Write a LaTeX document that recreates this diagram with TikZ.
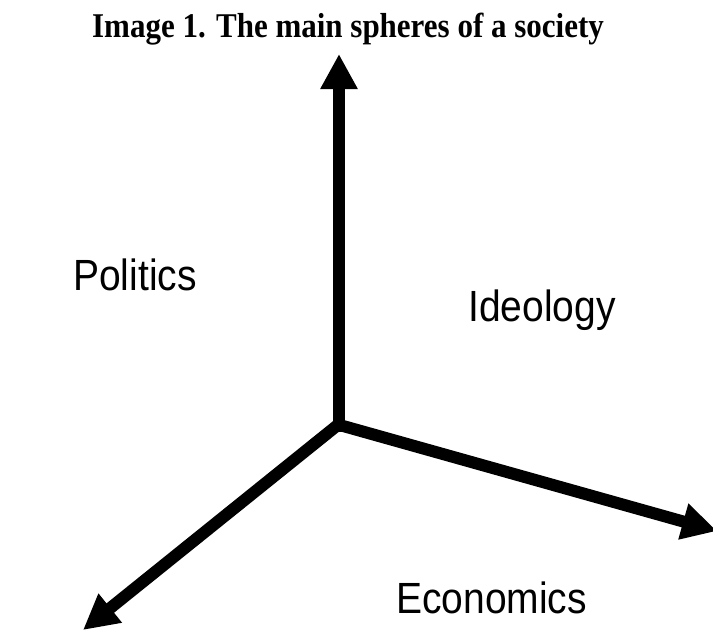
\documentclass[tikz,border=0pt]{standalone}
\usepackage{fontspec}
\usepackage{graphicx}
\setmainfont{Liberation Serif}
\setsansfont{Liberation Sans}
\usetikzlibrary{arrows.meta, positioning}
\newcommand{\tall}[1]{\scalebox{1}[1.12]{#1}}

\begin{document}
\begin{tikzpicture}[
      x=1pt, y=-1pt,
      axis/.style={-{Triangle[length=35pt, width=35pt]}, line width=12pt, draw=black},
      sphere/.style={anchor=base west, inner sep=0pt, font=\sffamily\fontsize{39}{46}\selectfont},
      heading/.style={anchor=base, inner sep=0pt, font=\bfseries\fontsize{31}{36}\selectfont}
    ]
      \useasboundingbox (0,0) rectangle (713,630);
      \node[heading] (title) at (348,37) {\tall{Image 1. The main spheres of a society}};

      \coordinate (origin) at (339,424);
      \coordinate (up) at (339,54);
      \coordinate (right) at (717,531);
      \coordinate (down) at (83,630);

      \draw[axis] ([yshift=-8pt]origin) -- (up);
      \draw[axis] ([xshift=-3pt]origin) -- (right);
      \draw[axis] (origin) -- (down);

      \node[sphere] (politics) at (73,290) {\tall{Politics}};
      \node[sphere] (ideology) at (468,321) {\tall{Ideology}};
      \node[sphere] (economics) at (396,613) {\tall{Economics}};
    \end{tikzpicture}
\end{document}
